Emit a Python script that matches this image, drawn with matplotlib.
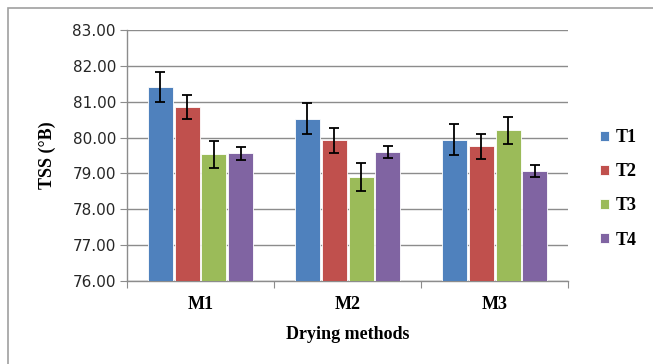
import numpy as np
import matplotlib.pyplot as plt
from matplotlib.patches import Rectangle

# data
methods = ["M1", "M2", "M3"]
treatments = ["T1", "T2", "T3", "T4"]
tss = {
    "T1": [81.41, 80.53, 79.94],
    "T2": [80.86, 79.92, 79.76],
    "T3": [79.53, 78.90, 80.20],
    "T4": [79.56, 79.59, 79.06],
}
err = {
    "T1": [0.43, 0.44, 0.43],
    "T2": [0.34, 0.35, 0.35],
    "T3": [0.38, 0.38, 0.38],
    "T4": [0.18, 0.17, 0.17],
}
colors = ["#4F81BD", "#C0504D", "#9BBB59", "#8064A2"]

serif = "Liberation Serif"
sans = "DejaVu Sans"

fig = plt.figure(figsize=(6.53, 3.64), dpi=100)
ax = fig.add_axes([0.1945, 0.228, 0.6755, 0.6896])

# outer chart border
fig.patches.append(Rectangle((8 / 653, -0.05), 1.1, 1 - 8 / 364 + 0.05,
                             transform=fig.transFigure, fill=False,
                             edgecolor="#A0A0A0", linewidth=1.2))

x = np.arange(len(methods))
width = 0.17
pitch = 0.183
for i, t in enumerate(treatments):
    pos = x + (i - 1.5) * pitch
    ax.bar(pos, np.array(tss[t]) - 76, width, bottom=76, color=colors[i],
           edgecolor="white", linewidth=0.6, label=t, zorder=3)
    ax.errorbar(pos, tss[t], yerr=err[t], fmt="none", ecolor="black",
                elinewidth=1.3, capsize=3.5, capthick=1.3, zorder=4)

ax.set_xlim(-0.5, 2.5)
ax.set_ylim(76, 83)
ax.set_yticks(np.arange(76, 83.1, 1))
ax.set_yticklabels([f"{v:.2f}" for v in np.arange(76, 83.1, 1)],
                   fontfamily=sans, fontsize=11, color="#262626")
ax.yaxis.grid(True, color="#8C8C8C", linewidth=1.0, zorder=0)
ax.set_axisbelow(True)

ax.set_xticks([-0.5, 0.5, 1.5, 2.5])
ax.set_xticklabels([])
ax.set_xticks(x, minor=True)
ax.set_xticklabels(methods, minor=True, fontfamily=serif, fontsize=13,
                   fontweight="bold")
ax.tick_params(axis="x", which="minor", length=0, pad=11)
ax.tick_params(axis="x", which="major", length=5, color="#8C8C8C")
ax.tick_params(axis="y", length=5, color="#8C8C8C", pad=3)

for s in ["top", "right"]:
    ax.spines[s].set_visible(False)
for s in ["left", "bottom"]:
    ax.spines[s].set_color("#8C8C8C")
    ax.spines[s].set_linewidth(1.0)

ax.set_ylabel("TSS (°B)", fontfamily=serif, fontsize=13, fontweight="bold",
              labelpad=12)
ax.set_xlabel("Drying methods", fontfamily=serif, fontsize=13,
              fontweight="bold", labelpad=9)

leg = ax.legend(loc="center left", bbox_to_anchor=(1.035, 0.367), frameon=False,
                handlelength=0.5, handleheight=0.5, handletextpad=0.4,
                labelspacing=0.95, prop={"family": serif, "size": 13,
                                         "weight": "bold"})

fig.savefig("out.png", dpi=100)
